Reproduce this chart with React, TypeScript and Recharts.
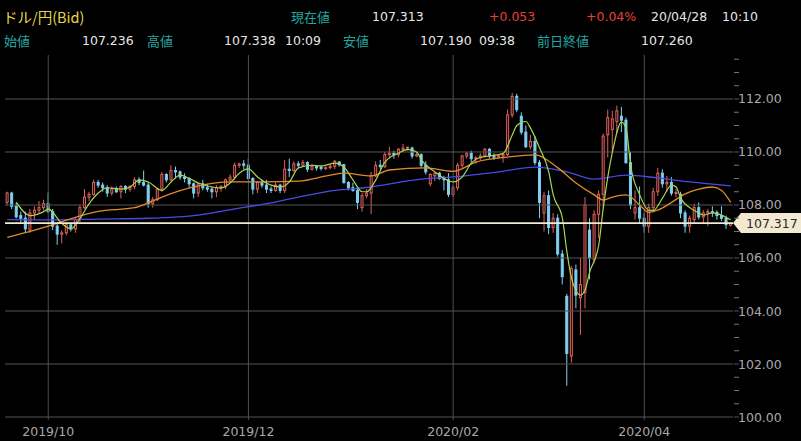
import { Bar, ComposedChart, Line, ReferenceLine, XAxis, YAxis } from 'recharts';

// trading days (weekdays) shown on the chart
const dates = [
  '2019-09-18', '2019-09-19', '2019-09-20', '2019-09-23', '2019-09-24', '2019-09-25', '2019-09-26', '2019-09-27', '2019-09-30',
  '2019-10-01', '2019-10-02', '2019-10-03', '2019-10-04', '2019-10-07', '2019-10-08', '2019-10-09', '2019-10-10', '2019-10-11',
  '2019-10-14', '2019-10-15', '2019-10-16', '2019-10-17', '2019-10-18', '2019-10-21', '2019-10-22', '2019-10-23', '2019-10-24',
  '2019-10-25', '2019-10-28', '2019-10-29', '2019-10-30', '2019-10-31',
  '2019-11-01', '2019-11-04', '2019-11-05', '2019-11-06', '2019-11-07', '2019-11-08', '2019-11-11', '2019-11-12', '2019-11-13',
  '2019-11-14', '2019-11-15', '2019-11-18', '2019-11-19', '2019-11-20', '2019-11-21', '2019-11-22', '2019-11-25', '2019-11-26',
  '2019-11-27', '2019-11-28', '2019-11-29',
  '2019-12-02', '2019-12-03', '2019-12-04', '2019-12-05', '2019-12-06', '2019-12-09', '2019-12-10', '2019-12-11', '2019-12-12',
  '2019-12-13', '2019-12-16', '2019-12-17', '2019-12-18', '2019-12-19', '2019-12-20', '2019-12-23', '2019-12-24', '2019-12-25',
  '2019-12-26', '2019-12-27', '2019-12-30', '2019-12-31',
  '2020-01-01', '2020-01-02', '2020-01-03', '2020-01-06', '2020-01-07', '2020-01-08', '2020-01-09', '2020-01-10', '2020-01-13',
  '2020-01-14', '2020-01-15', '2020-01-16', '2020-01-17', '2020-01-20', '2020-01-21', '2020-01-22', '2020-01-23', '2020-01-24',
  '2020-01-27', '2020-01-28', '2020-01-29', '2020-01-30', '2020-01-31',
  '2020-02-03', '2020-02-04', '2020-02-05', '2020-02-06', '2020-02-07', '2020-02-10', '2020-02-11', '2020-02-12', '2020-02-13',
  '2020-02-14', '2020-02-17', '2020-02-18', '2020-02-19', '2020-02-20', '2020-02-21', '2020-02-24', '2020-02-25', '2020-02-26',
  '2020-02-27', '2020-02-28',
  '2020-03-02', '2020-03-03', '2020-03-04', '2020-03-05', '2020-03-06', '2020-03-09', '2020-03-10', '2020-03-11', '2020-03-12',
  '2020-03-13', '2020-03-16', '2020-03-17', '2020-03-18', '2020-03-19', '2020-03-20', '2020-03-23', '2020-03-24', '2020-03-25',
  '2020-03-26', '2020-03-27', '2020-03-30', '2020-03-31',
  '2020-04-01', '2020-04-02', '2020-04-03', '2020-04-06', '2020-04-07', '2020-04-08', '2020-04-09', '2020-04-10', '2020-04-13',
  '2020-04-14', '2020-04-15', '2020-04-16', '2020-04-17', '2020-04-20', '2020-04-21', '2020-04-22', '2020-04-23', '2020-04-24',
  '2020-04-27', '2020-04-28',
];

const opens = [
  108.10, 108.45, 107.95, 107.60, 107.50, 107.05, 107.70, 107.80, 107.90,
  108.05, 107.75, 107.20, 106.90, 106.95, 107.25, 107.10, 107.45, 107.90, 108.30, 108.40, 108.85, 108.75, 108.65, 108.45, 108.60, 108.50, 108.70, 108.60, 108.70, 108.95, 108.85, 108.75,
  108.05, 108.20, 108.60, 109.15, 108.95, 109.30, 109.25, 109.05, 109.00, 108.80, 108.45, 108.80, 108.65, 108.60, 108.50, 108.65, 108.70, 108.95, 109.05, 109.50, 109.55,
  109.50, 109.00, 108.60, 108.85, 108.75, 108.60, 108.55, 108.75, 108.55, 109.35, 109.30, 109.55, 109.50, 109.60, 109.35, 109.45, 109.42, 109.38, 109.41, 109.46, 109.62, 109.52,
  108.85, 108.65, 108.55, 107.90, 108.35, 108.45, 109.10, 109.50, 109.45, 109.90, 109.95, 109.90, 110.10, 110.15, 110.15, 109.85, 109.90, 109.50, 108.80, 109.10, 109.20, 109.00, 108.95,
  108.40, 108.65, 109.50, 109.85, 109.95, 109.75, 109.78, 109.85, 110.10, 109.85, 109.80, 109.85, 109.90, 111.40, 112.10, 111.35, 110.75, 110.20, 110.40, 109.60,
  107.70, 108.35, 107.15, 107.50, 106.15, 104.55, 102.30, 105.55, 104.50, 104.70, 107.05, 105.95, 107.65, 108.40, 110.65, 110.85, 111.15, 111.35, 111.20, 109.60, 107.70, 107.90,
  107.50, 107.20, 107.90, 108.50, 109.20, 108.80, 108.85, 108.45, 108.40, 107.70, 107.20, 107.45, 107.90, 107.55, 107.70, 107.75, 107.72, 107.60, 107.50, 107.236,
];

const highs = [
  108.50, 108.50, 108.10, 107.75, 107.75, 107.85, 107.95, 108.15, 108.20,
  108.47, 107.85, 107.30, 107.05, 107.35, 107.35, 107.55, 108.00, 108.60, 108.50, 108.95, 108.95, 108.85, 108.75, 108.70, 108.70, 108.75, 108.75, 108.75, 109.05, 109.05, 109.30, 108.85,
  108.30, 108.65, 109.25, 109.20, 109.50, 109.45, 109.30, 109.20, 109.05, 108.85, 108.85, 108.95, 108.80, 108.70, 108.75, 108.75, 109.00, 109.15, 109.60, 109.60, 109.70,
  109.75, 109.05, 108.90, 108.95, 108.95, 108.70, 108.85, 108.80, 109.70, 109.75, 109.65, 109.65, 109.70, 109.65, 109.55, 109.50, 109.50, 109.45, 109.55, 109.70, 109.66, 109.55,
  108.90, 108.85, 108.65, 108.45, 108.60, 109.25, 109.65, 109.70, 110.00, 110.20, 110.05, 110.15, 110.30, 110.20, 110.20, 110.00, 109.95, 109.65, 109.20, 109.25, 109.25, 109.10, 109.20,
  108.75, 109.60, 109.90, 110.00, 110.05, 109.85, 109.95, 110.15, 110.15, 109.95, 109.90, 109.95, 111.60, 112.23, 112.20, 111.50, 111.00, 110.65, 110.60, 109.70,
  108.50, 108.55, 107.70, 107.65, 106.30, 104.65, 105.70, 105.75, 106.00, 108.30, 107.50, 107.80, 108.55, 110.70, 111.60, 111.55, 111.75, 111.70, 111.30, 110.00, 108.55, 108.70,
  107.70, 108.05, 108.65, 109.40, 109.35, 109.10, 109.05, 108.60, 108.50, 107.80, 107.60, 108.05, 108.10, 107.80, 107.85, 107.95, 107.80, 107.95, 107.60, 107.338,
];

const lows = [
  108.00, 107.85, 107.50, 107.30, 106.95, 106.95, 107.45, 107.70, 107.80,
  107.70, 107.05, 106.50, 106.55, 106.85, 107.00, 106.95, 107.35, 107.85, 108.15, 108.35, 108.65, 108.50, 108.30, 108.35, 108.45, 108.25, 108.45, 108.50, 108.60, 108.75, 108.70, 107.90,
  107.90, 108.15, 108.50, 108.85, 108.90, 109.00, 108.95, 108.85, 108.65, 108.25, 108.30, 108.55, 108.50, 108.25, 108.30, 108.50, 108.60, 108.85, 108.95, 109.40, 109.35,
  108.95, 108.40, 108.45, 108.65, 108.45, 108.45, 108.50, 108.45, 108.45, 109.05, 109.25, 109.40, 109.45, 109.25, 109.30, 109.30, 109.30, 109.33, 109.35, 109.35, 109.45, 108.80,
  108.55, 108.50, 107.85, 107.75, 108.25, 107.65, 109.05, 109.35, 109.40, 109.75, 109.75, 109.80, 110.05, 110.05, 109.75, 109.80, 109.40, 109.15, 108.70, 108.90, 108.95, 108.55, 108.30,
  108.30, 108.55, 109.40, 109.75, 109.60, 109.55, 109.70, 109.80, 109.75, 109.70, 109.75, 109.60, 109.85, 111.30, 111.50, 110.65, 110.15, 110.10, 109.50, 107.50,
  107.00, 106.90, 106.95, 106.05, 105.00, 101.18, 102.05, 104.10, 103.10, 104.10, 105.20, 105.80, 106.75, 107.90, 109.80, 110.00, 110.70, 110.75, 109.55, 107.85, 107.45, 107.30,
  106.95, 106.95, 107.75, 108.35, 108.65, 108.50, 108.35, 108.30, 107.50, 106.95, 106.95, 107.30, 107.45, 107.30, 107.20, 107.55, 107.45, 107.40, 107.10, 107.19,
];

const closes = [
  108.45, 107.95, 107.55, 107.50, 107.10, 107.70, 107.80, 107.90, 108.05,
  107.75, 107.20, 106.90, 106.95, 107.25, 107.10, 107.45, 107.90, 108.30, 108.40, 108.85, 108.75, 108.65, 108.45, 108.60, 108.50, 108.70, 108.60, 108.70, 108.95, 108.85, 108.75, 108.05,
  108.20, 108.60, 109.15, 108.95, 109.30, 109.25, 109.05, 109.00, 108.80, 108.45, 108.80, 108.65, 108.60, 108.50, 108.65, 108.70, 108.95, 109.05, 109.50, 109.55, 109.50,
  109.00, 108.60, 108.85, 108.75, 108.60, 108.55, 108.75, 108.55, 109.35, 109.30, 109.55, 109.50, 109.60, 109.35, 109.45, 109.40, 109.38, 109.41, 109.46, 109.65, 109.52, 108.85,
  108.65, 108.55, 108.10, 108.35, 108.45, 109.10, 109.50, 109.45, 109.90, 109.95, 109.90, 110.10, 110.15, 110.18, 109.85, 109.90, 109.50, 109.25, 109.15, 109.20, 109.00, 108.95, 108.40,
  108.65, 109.50, 109.85, 109.95, 109.75, 109.78, 109.85, 110.10, 109.85, 109.80, 109.85, 109.90, 111.40, 112.10, 111.60, 110.75, 110.20, 110.40, 109.60, 108.10,
  108.35, 107.15, 107.50, 106.15, 105.30, 102.40, 105.60, 104.60, 105.00, 108.00, 106.00, 107.65, 108.40, 110.60, 111.30, 111.25, 111.55, 111.20, 109.60, 108.00, 107.90, 107.50,
  107.20, 107.90, 108.50, 109.20, 108.80, 108.85, 108.45, 108.47, 107.70, 107.20, 107.50, 107.90, 107.55, 107.70, 107.75, 107.72, 107.60, 107.50, 107.26, 107.313,
];

// moving averages: [day index, value]
const fastMa: [number, number][] = [
  [2, 108.1], [5, 107.6], [8, 107.75], [9, 107.85], [12, 107.3], [14, 107.1], [16, 107.5], [18, 108.05], [20, 108.45],
  [22, 108.65], [25, 108.6], [27, 108.68], [29, 108.95], [31, 108.87], [34, 108.55], [36, 108.87], [38, 109.13], [40, 109.0],
  [42, 108.83], [45, 108.68], [47, 108.64], [49, 108.83], [51, 109.2], [53, 109.36], [55, 109.06], [58, 108.75], [60, 108.68],
  [62, 108.87], [64, 109.4], [67, 109.5], [69, 109.47], [72, 109.58], [74, 109.43], [76, 108.94], [78, 108.5], [79, 108.5],
  [81, 108.95], [83, 109.62], [86, 109.96], [88, 110.1], [90, 110.0], [91, 109.7], [94, 109.25], [96, 109.0], [98, 108.87],
  [100, 109.06], [102, 109.58], [104, 109.8], [106, 109.85], [109, 109.95], [111, 110.65], [112, 111.0], [114, 111.15],
  [115, 110.9], [117, 110.15], [119, 109.25], [120, 108.38], [122, 107.5], [123, 106.23], [124, 105.25], [126, 104.6],
  [127, 104.8], [128, 105.47], [130, 106.5], [131, 107.9], [133, 110.0], [135, 111.13], [136, 110.9], [137, 109.5],
  [139, 108.38], [141, 107.8], [142, 107.8], [144, 108.26], [146, 108.75], [147, 108.68], [148, 108.26], [150, 107.9],
  [152, 107.7], [153, 107.62], [155, 107.7], [157, 107.62], [159, 107.43],
];

const midMa: [number, number][] = [
  [0, 106.78], [6, 107.05], [9, 107.2], [13, 107.43], [20, 107.76], [28, 107.9], [31, 108.08], [34, 108.3], [42, 108.72],
  [49, 108.87], [56, 108.87], [64, 108.9], [71, 109.13], [74, 109.2], [80, 109.1], [84, 109.32], [92, 109.4], [98, 109.27],
  [103, 109.62], [110, 109.81], [116, 109.89], [121, 109.4], [125, 108.83], [129, 108.38], [131, 108.19], [133, 108.3],
  [136, 108.38], [139, 108.0], [141, 107.72], [143, 107.81], [146, 108.1], [149, 108.42], [152, 108.6], [155, 108.68],
  [157, 108.55], [159, 108.1],
];

const slowMa: [number, number][] = [
  [0, 107.45], [10, 107.44], [20, 107.47], [31, 107.5], [42, 107.62], [50, 107.85], [57, 108.05], [64, 108.3], [72, 108.55],
  [79, 108.66], [91, 108.98], [98, 109.06], [108, 109.25], [116, 109.43], [123, 109.25], [129, 108.98], [136, 109.13],
  [143, 109.02], [150, 108.87], [159, 108.72],
];

const monthTicks = ['2019-10-01', '2019-12-02', '2020-02-03', '2020-04-01'];
const yTicks = [
  100, 100.5, 101, 101.5, 102, 102.5, 103, 103.5, 104, 104.5, 105, 105.5, 106, 106.5,
  107, 107.5, 108, 108.5, 109, 109.5, 110, 110.5, 111, 111.5, 112, 112.5, 113, 113.5,
];
const gridLevels = [100, 102, 104, 106, 108, 110, 112];
const lastPrice = 107.317;

const UP = '#e0625c';
const UP_FILL = '#1a0606';
const DOWN = '#7fd0f2';
const FONT = '"DejaVu Sans", Verdana, sans-serif';
const CJK = '"Noto Sans CJK JP", sans-serif';

const fastMap = new Map(fastMa);
const midMap = new Map(midMa);
const slowMap = new Map(slowMa);

const rows = dates.map((d, i) => ({
  d,
  o: opens[i],
  h: highs[i],
  l: lows[i],
  c: closes[i],
  hl: [lows[i], highs[i]],
  g: fastMap.get(i) ?? null,
  m: midMap.get(i) ?? null,
  s: slowMap.get(i) ?? null,
}));

function Candle(props: any) {
  const { x, y, width, height, payload } = props;
  if (!payload) return null;
  const { o, h, l, c } = payload;
  const top = Math.min(y, y + height);
  const hgt = Math.abs(height);
  const k = h - l > 0 ? hgt / (h - l) : 0;
  const yO = top + (h - o) * k;
  const yC = top + (h - c) * k;
  const up = c >= o;
  const color = up ? UP : DOWN;
  const cx = x + width / 2;
  const bTop = Math.min(yO, yC);
  const bH = Math.max(1, Math.abs(yO - yC));
  return (
    <g>
      <line x1={cx} x2={cx} y1={top} y2={top + hgt} stroke={color} strokeWidth={1} />
      <rect x={x + 0.5} y={bTop} width={Math.max(1, width - 1)} height={bH} fill={up ? UP_FILL : DOWN} stroke={color} strokeWidth={1} />
    </g>
  );
}

function YTick(props: any) {
  const { x, y, payload } = props;
  const v = payload.value;
  const major = Math.abs(v % 2) < 1e-6;
  return (
    <g>
      <line x1={x + 1} x2={x + 6} y1={y} y2={y} stroke={major ? '#555' : '#777'} />
      {major && (
        <text x={x + 5} y={y} dy={4.5} fill="#a9a9a9" fontSize={12.5} fontFamily={FONT}>
          {v.toFixed(2)}
        </text>
      )}
    </g>
  );
}

function XTick(props: any) {
  const { x, y, payload } = props;
  return (
    <text x={x} y={y + 16} textAnchor="middle" fill="#a9a9a9" fontSize={12.5} fontFamily={FONT}>
      {String(payload.value).slice(0, 7).replace('-', '/')}
    </text>
  );
}

function PriceTag(props: any) {
  const vb = props.viewBox;
  if (!vb) return null;
  const x = vb.x + vb.width;
  const y = vb.y;
  return (
    <g>
      <polygon points={`${x},${y} ${x + 8},${y - 10} ${x + 70},${y - 10} ${x + 70},${y + 10} ${x + 8},${y + 10}`} fill="#f2e9d0" />
      <text x={x + 13} y={y + 4.5} fill="#2a2a2a" fontSize={12.5} fontFamily={FONT}>
        {lastPrice.toFixed(3)}
      </text>
    </g>
  );
}

const TEAL = '#22a7a0';
const WHITE = '#e6e6e6';
const RED = '#e4403c';

const row1 = [
  { x: 291, t: '現在値', c: TEAL, cjk: true },
  { x: 372, t: '107.313', c: WHITE },
  { x: 489, t: '+0.053', c: RED },
  { x: 586, t: '+0.04%', c: RED },
  { x: 651, t: '20/04/28', c: WHITE },
  { x: 722, t: '10:10', c: WHITE },
];
const row2 = [
  { x: 4, t: '始値', c: TEAL, cjk: true },
  { x: 82, t: '107.236', c: WHITE },
  { x: 147, t: '高値', c: TEAL, cjk: true },
  { x: 224, t: '107.338', c: WHITE },
  { x: 285, t: '10:09', c: WHITE },
  { x: 343, t: '安値', c: TEAL, cjk: true },
  { x: 420, t: '107.190', c: WHITE },
  { x: 479, t: '09:38', c: WHITE },
  { x: 537, t: '前日終値', c: TEAL, cjk: true },
  { x: 641, t: '107.260', c: WHITE },
];

function HeaderRow({ items, top }: { items: any[]; top: number }) {
  return (
    <>
      {items.map((it) => (
        <div
          key={it.t + it.x}
          style={{
            position: 'absolute',
            left: it.x,
            top,
            height: 20,
            lineHeight: '20px',
            whiteSpace: 'nowrap',
            color: it.c,
            fontSize: it.cjk ? 13 : 12.5,
            fontFamily: it.cjk ? CJK : FONT,
          }}
        >
          {it.t}
        </div>
      ))}
    </>
  );
}

export default function App() {
  return (
    <div style={{ position: 'fixed', left: 0, top: 0, width: 801, height: 441, background: '#000', overflow: 'hidden' }}>
      <ComposedChart
        width={801}
        height={441}
        data={rows}
        margin={{ top: 55, right: 0, bottom: 0, left: 5 }}
        barCategoryGap="14%"
      >
        <XAxis
          dataKey="d"
          ticks={monthTicks}
          interval={0}
          height={21}
          axisLine={false}
          tickLine={false}
          tickSize={0}
          tickMargin={0}
          tick={<XTick />}
        />
        <YAxis
          orientation="right"
          width={68}
          domain={[99.887, 113.66]}
          ticks={yTicks}
          interval={0}
          allowDataOverflow
          axisLine={false}
          tickLine={false}
          tickSize={0}
          tickMargin={0}
          tick={<YTick />}
        />
        {monthTicks.map((d) => (
          <ReferenceLine key={d} x={d} stroke="#4e4e4e" strokeWidth={1} />
        ))}
        {gridLevels.map((v) => (
          <ReferenceLine key={v} y={v} stroke="#555" strokeWidth={1} />
        ))}
        <Bar dataKey="hl" shape={(p: any) => <Candle {...p} />} isAnimationActive={false} />
        <Line dataKey="s" type="monotone" stroke="#4a4ae6" strokeWidth={1.3} dot={false} connectNulls isAnimationActive={false} />
        <Line dataKey="m" type="monotone" stroke="#e28a2c" strokeWidth={1.3} dot={false} connectNulls isAnimationActive={false} />
        <Line dataKey="g" type="monotone" stroke="#a9d64e" strokeWidth={1.2} dot={false} connectNulls isAnimationActive={false} />
        <ReferenceLine y={lastPrice} stroke="#f1e9d2" strokeWidth={1.6} label={<PriceTag />} />
      </ComposedChart>
      <div style={{ position: 'absolute', left: 3, top: 6, height: 22, lineHeight: '22px', color: '#e6d548', fontSize: 14.5, fontFamily: CJK, whiteSpace: 'nowrap' }}>
        ドル/円(Bid)
      </div>
      <HeaderRow items={row1} top={7} />
      <HeaderRow items={row2} top={31} />
    </div>
  );
}
